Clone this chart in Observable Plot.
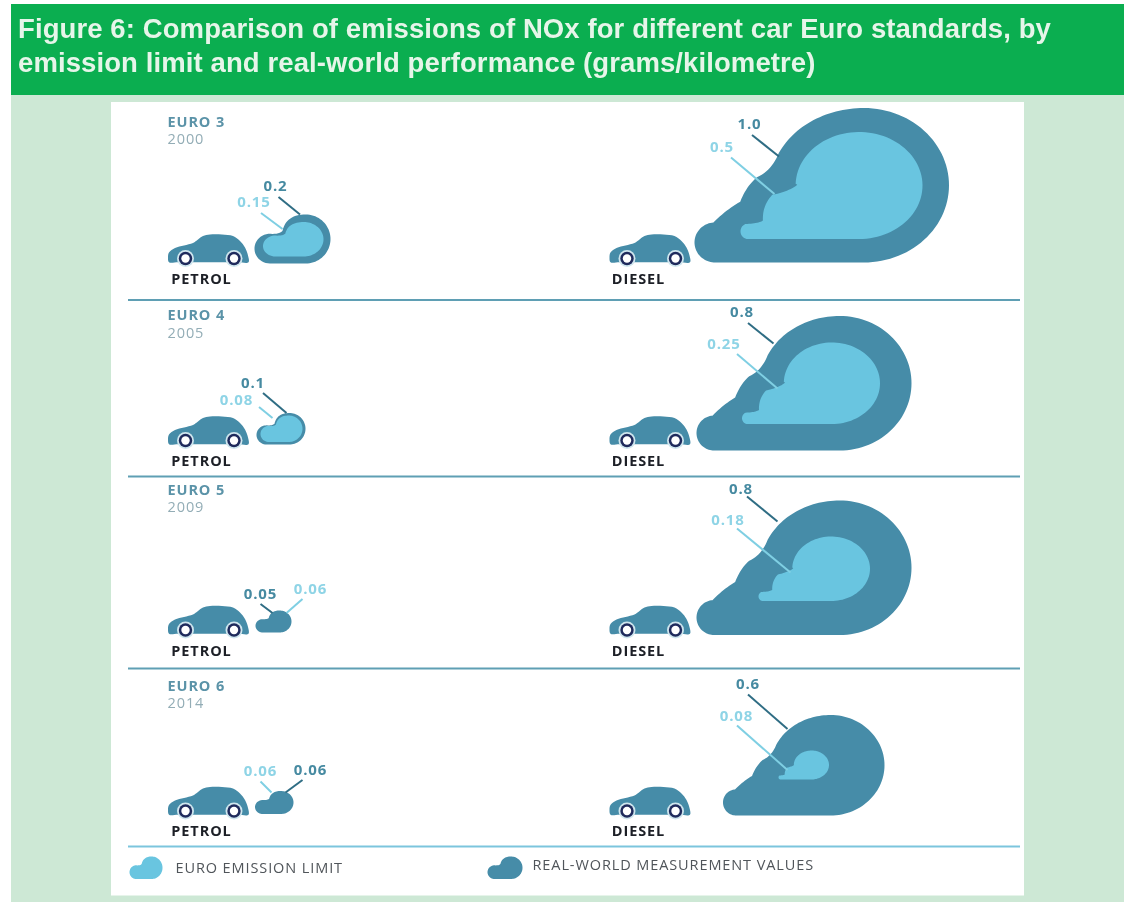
<!DOCTYPE html>
<html><head><meta charset="utf-8">
<script src="https://cdn.jsdelivr.net/npm/d3@7"></script>
<script src="https://cdn.jsdelivr.net/npm/@observablehq/plot@0.6"></script>
<style>
html,body{margin:0;padding:0;background:#fff;width:1124px;height:902px;overflow:hidden}
#head{position:absolute;left:11px;top:4px;width:1113px;height:91px;background:#0bae50;color:#e6f5e9;
 font:bold 27.5px/34px "Liberation Sans",Arial,sans-serif;box-sizing:border-box;padding:8px 0 0 7px;letter-spacing:.1px;white-space:nowrap;filter:blur(.4px)}
#chart{position:absolute;left:0;top:95px;filter:blur(.45px)}
svg{display:block}
svg text{letter-spacing:.9px}
</style></head><body>
<div id="head">Figure 6: Comparison of emissions of NOx for different car Euro standards, by<br>emission limit and real-world performance (grams/kilometre)</div>
<div id="chart"></div>
<script>
// ---- values ----
const standards = ["EURO 3", "EURO 4", "EURO 5", "EURO 6"];
const years = [2000, 2005, 2009, 2014];
const petrolLimit = [0.15, 0.08, 0.06, 0.06];
const petrolReal = [0.2, 0.1, 0.05, 0.06];
const dieselLimit = [0.5, 0.25, 0.18, 0.08];
const dieselReal = [1.0, 0.8, 0.8, 0.6];
const fuels = ["PETROL", "DIESEL"];
const legendLabels = ["EURO EMISSION LIMIT", "REAL-WORLD MEASUREMENT VALUES"];

// ---- layout of the infographic (separate from the values) ----
const REAL = "#468ca8", LIMIT = "#69c5e0", VALUE_DARK = "#468aa1", VALUE_LIGHT = "#8ed4e6",
      LEAD_DARK = "#2f6d84", LEAD_LIGHT = "#7fcfe3", GREEN = "#cde8d5";
const rowLabelY = [[121.5, 139], [315, 332.5], [489.5, 507], [685.5, 703]];
const wheelY = [258, 440, 629.5, 810.5];
const fuelLabelY = [278.5, 460.5, 650.5, 831];
const carLeft = [167.5, 609];
const separators = [299.5, 476, 668];
const legendRule = 846;
// cloud boxes: [x0, x1, y0, y1]
const realBoxes = {
  petrol: [[254, 330, 214, 263], [256, 305, 412.5, 444], [255, 291, 610, 632], [254.5, 293, 790.5, 813.5]],
  diesel: [[694, 948.5, 107.5, 262], [696, 911, 315.5, 450], [696, 911, 500, 634.5], [722.5, 884, 714.5, 815]]
};
const limitBoxes = {
  petrol: [[262.5, 323, 221.5, 256], [260, 302, 415, 441.5], null, null],
  diesel: [[740, 922, 131.5, 238.5], [741.5, 879.5, 342, 423.5], [758, 869.5, 536, 600.5], [778, 828.5, 750, 779]]
};
// value label centre, then leader line [x1,y1,x2,y2]
const petrolRealLabel = [[275, 186, 278, 196.5, 299.5, 214], [252.5, 383, 262.5, 392.5, 286, 412.5], [260, 594, 260, 603.5, 272, 612.5], [310, 770, 302, 779.5, 285, 792]];
const petrolLimitLabel = [[253.5, 202, 260.5, 212.5, 282, 228.5], [236, 400, 258.5, 406.5, 272, 417.5], [310, 589, 302, 598.5, 286, 612.5], [260, 771, 260, 781, 271, 792]];
const dieselRealLabel = [[749, 124, 751.5, 134.5, 778.5, 156], [741.5, 312, 747.5, 322.5, 773, 343], [740.5, 488.5, 746.5, 496, 777, 521], [747.5, 684, 747.5, 694, 787, 728.5]];
const dieselLimitLabel = [[721.5, 147, 730.5, 157, 774, 193.5], [723.5, 344, 736.5, 353.5, 777, 388], [727.5, 519.5, 736.5, 528, 790, 572], [736, 716, 736.5, 725, 787, 769.5]];

// ---- icon outlines, sampled ----
const ell = (cx, cy, rx, ry, a0, a1, n = 40) => d3.range(n + 1).map(i => {
  const t = (a0 + (a1 - a0) * i / n) * Math.PI / 180;
  return [cx + rx * Math.cos(t), cy + ry * Math.sin(t)];
});
const quad = (p, c, q, n = 12) => d3.range(1, n + 1).map(i => {
  const s = i / n, r = 1 - s;
  return [r * r * p[0] + 2 * r * s * c[0] + s * s * q[0], r * r * p[1] + 2 * r * s * c[1] + s * s * q[1]];
});
const normalise = (pts) => {
  const [a, b] = d3.extent(pts, d => d[0]), [c, e] = d3.extent(pts, d => d[1]);
  return pts.map(([x, y]) => [(x - a) / (b - a), (y - c) / (e - c)]);
};
const realShape = normalise([
  ...ell(345, 440, 62, 60, 90, 265),
  ...quad([340, 380], [378, 342], [420, 318]),
  ...quad([420, 318], [438, 272], [470, 245]),
  ...quad([470, 245], [515, 225], [536, 171]),
  ...ell(790, 269, 280, 231, 205, 270, 30),
  ...ell(790, 269, 255, 231, 270, 450, 60)
]);
const limitShape = normalise([
  ...ell(442, 407, 22, 23, 90, 250, 16),
  ...quad([434, 385], [470, 385], [487, 375]),
  ...quad([487, 375], [485, 330], [515, 298]),
  ...quad([515, 298], [565, 288], [590, 268]),
  ...ell(775, 270, 190, 160, 182, 450, 80)
]);
const smallShape = normalise([
  ...ell(755, 745, 43, 45, 90, 280, 24),
  ...quad([762, 700], [780, 702], [790, 692], 6),
  ...quad([790, 692], [800, 642], [855, 642], 16),
  ...ell(855, 716, 69, 74, 270, 450, 40)
]);
const place = (shape, box, id) => shape.map(([u, v]) => ({
  id, x: box[0] + u * (box[1] - box[0]), y: box[2] + v * (box[3] - box[2])
}));
const realClouds = [], limitClouds = [];
realBoxes.petrol.forEach((b, i) => realClouds.push(...place(smallShape, b, "p" + i)));
realBoxes.diesel.forEach((b, i) => realClouds.push(...place(realShape, b, "d" + i)));
limitBoxes.petrol.forEach((b, i) => { if (b) limitClouds.push(...place(smallShape, b, "p" + i)); });
limitBoxes.diesel.forEach((b, i) => limitClouds.push(...place(limitShape, b, "d" + i)));
limitClouds.push(...place(smallShape, [129, 162, 856, 878.5], "legend"));
realClouds.push(...place(smallShape, [487, 522, 856, 878.5], "legend"));

// car body relative to left end and wheel axis
const carShape = [[1, 3.7], [0, -1], [1, -6], [7, -10.5], [16, -13], [25, -15.5], [30, -19], [35, -22.5], [42, -24], [54, -24], [65, -22.5], [72, -17.5], [77, -11], [80, -3], [80.5, 3.7], [70, 3.7], [55, 3.7], [40, 3.7], [25, 3.7], [10, 3.7]];
const cars = [], wheels = [], fuelLabels = [];
carLeft.forEach((left, f) => wheelY.forEach((wy, r) => {
  carShape.forEach(([dx, dy]) => cars.push({id: f + "-" + r, x: left + dx, y: wy + dy}));
  wheels.push({x: left + 17.5, y: wy}, {x: left + 66, y: wy});
  fuelLabels.push({x: left + (f ? 29 : 33.5), y: fuelLabelY[r], text: fuels[f]});
}));

const fmt = v => v === 1 ? "1.0" : String(v);
const labelRows = (values, lay) => values.map((v, i) => ({
  text: fmt(v), x: lay[i][0], y: lay[i][1], x1: lay[i][2], y1: lay[i][3], x2: lay[i][4], y2: lay[i][5]
}));
const darkLabels = [...labelRows(petrolReal, petrolRealLabel), ...labelRows(dieselReal, dieselRealLabel)];
const lightLabels = [...labelRows(petrolLimit, petrolLimitLabel), ...labelRows(dieselLimit, dieselLimitLabel)];

const font = "'Open Sans', sans-serif";
const chart = Plot.plot({
  width: 1124, height: 807, margin: 0,
  x: {domain: [0, 1124], range: [0, 1124], axis: null},
  y: {domain: [95, 902], range: [0, 807], axis: null},
  style: {background: "transparent"},
  marks: [
    Plot.rect([{}], {x1: () => 11, x2: () => 1124, y1: () => 95, y2: () => 902, fill: GREEN}),
    Plot.rect([{}], {x1: () => 111, x2: () => 1024, y1: () => 102, y2: () => 895.5, fill: "#fff"}),
    Plot.ruleY(separators, {x1: 128, x2: 1020, stroke: "#5f9fb4", strokeWidth: 2}),
    Plot.ruleY([legendRule], {x1: 128, x2: 1020, stroke: "#7cc5dd", strokeWidth: 2}),
    Plot.line(cars, {x: "x", y: "y", z: "id", fill: REAL, stroke: "none", curve: "catmull-rom-closed"}),
    Plot.dot(wheels, {x: "x", y: "y", r: 8.5, fill: "#cfe6ee", stroke: "none"}),
    Plot.dot(wheels, {x: "x", y: "y", r: 6.7, fill: "#1f2a5c", stroke: "none"}),
    Plot.dot(wheels, {x: "x", y: "y", r: 4.2, fill: "#fff", stroke: "none"}),
    Plot.line(realClouds, {x: "x", y: "y", z: "id", fill: REAL, stroke: "none", curve: "linear-closed"}),
    Plot.line(limitClouds, {x: "x", y: "y", z: "id", fill: LIMIT, stroke: "none", curve: "linear-closed"}),
    Plot.link(darkLabels, {x1: "x1", y1: "y1", x2: "x2", y2: "y2", stroke: LEAD_DARK, strokeWidth: 2}),
    Plot.link(lightLabels, {x1: "x1", y1: "y1", x2: "x2", y2: "y2", stroke: LEAD_LIGHT, strokeWidth: 2}),
    Plot.text(darkLabels, {x: "x", y: "y", text: "text", fill: VALUE_DARK, fontFamily: font, fontWeight: 700, fontSize: 15}),
    Plot.text(lightLabels, {x: "x", y: "y", text: "text", fill: VALUE_LIGHT, fontFamily: font, fontWeight: 700, fontSize: 15}),
    Plot.text(standards, {x: () => 167, y: (d, i) => rowLabelY[i][0], text: d => d, textAnchor: "start", fill: "#5b93a8", fontFamily: font, fontWeight: 700, fontSize: 14.5}),
    Plot.text(years, {x: () => 167, y: (d, i) => rowLabelY[i][1], text: d => String(d), textAnchor: "start", fill: "#93adb6", fontFamily: font, fontSize: 14.5}),
    Plot.text(fuelLabels, {x: "x", y: "y", text: "text", fill: "#1c1f26", fontFamily: font, fontWeight: 700, fontSize: 14.5}),
    Plot.text(legendLabels, {x: (d, i) => [175, 532][i], y: (d, i) => [867.5, 865][i], text: d => d, textAnchor: "start", fill: "#50555a", fontFamily: font, fontSize: 14.5})
  ]
});
document.getElementById("chart").appendChild(chart);
</script>
</body></html>
